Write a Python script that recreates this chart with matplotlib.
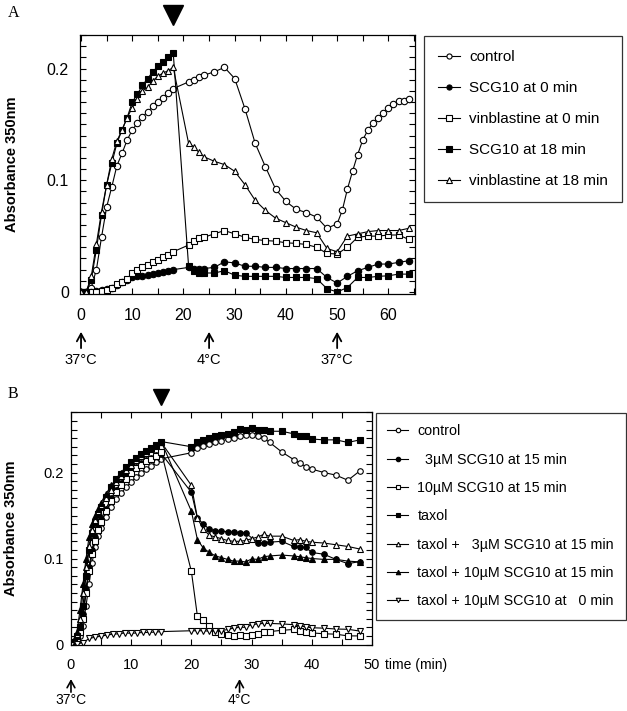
import matplotlib
matplotlib.use("Agg")
import matplotlib.pyplot as plt
from matplotlib.ticker import MultipleLocator
from matplotlib import transforms

plt.rcParams['font.family'] = ['Liberation Sans', 'DejaVu Sans']

# ---------------- Panel A data ----------------
t_a = [0, 1, 2, 3, 4, 5, 6, 7, 8, 9, 10, 11, 12, 13, 14, 15, 16, 17, 18,
       21, 22, 23, 24, 26, 28, 30, 32, 34, 36, 38, 40, 42, 44, 46, 48, 50,
       52, 54, 56, 58, 60, 62, 64]
t_a_control = [0, 1, 2, 3, 4, 5, 6, 7, 8, 9, 10, 11, 12, 13, 14, 15, 16, 17, 18,
               21, 22, 23, 24, 26, 28, 30, 32, 34, 36, 38, 40, 42, 44, 46, 48,
               50, 51, 52, 53, 54, 55, 56, 57, 58, 59, 60, 61, 62, 63, 64]

a_control = [0, 0, 0.004, 0.020, 0.049, 0.076, 0.094, 0.113, 0.124, 0.136, 0.145,
             0.151, 0.157, 0.161, 0.166, 0.170, 0.174, 0.178, 0.182,
             0.188, 0.190, 0.192, 0.194, 0.197, 0.201, 0.191, 0.164, 0.133, 0.112,
             0.092, 0.081, 0.074, 0.071, 0.067, 0.057,
             0.061, 0.073, 0.092, 0.108, 0.123, 0.136, 0.145, 0.151, 0.156, 0.160,
             0.165, 0.168, 0.171, 0.171, 0.173]
a_scg10_0 = [0, 0, 0, 0.001, 0.002, 0.003, 0.004, 0.006, 0.009, 0.011, 0.013, 0.014,
             0.014, 0.015, 0.016, 0.017, 0.018, 0.019, 0.020,
             0.022, 0.021, 0.021, 0.021, 0.022, 0.027, 0.026, 0.023, 0.023, 0.022,
             0.022, 0.021, 0.021, 0.021, 0.021, 0.013, 0.008,
             0.014, 0.019, 0.022, 0.025, 0.025, 0.0265, 0.028]
a_vinb_0 = [0, 0, 0, 0, 0.001, 0.002, 0.004, 0.007, 0.009, 0.012, 0.017, 0.020,
            0.022, 0.024, 0.027, 0.029, 0.031, 0.033, 0.036,
            0.042, 0.046, 0.048, 0.049, 0.052, 0.055, 0.052, 0.049, 0.047, 0.046,
            0.0455, 0.044, 0.0435, 0.0425, 0.040, 0.0345, 0.034,
            0.040, 0.049, 0.050, 0.050, 0.051, 0.051, 0.047]
a_scg10_18 = [0, 0, 0.011, 0.038, 0.069, 0.096, 0.115, 0.133, 0.145, 0.156, 0.170,
              0.177, 0.185, 0.191, 0.197, 0.202, 0.206, 0.210, 0.214,
              0.023, 0.019, 0.017, 0.017, 0.017, 0.019, 0.015, 0.014, 0.014, 0.014,
              0.014, 0.013, 0.013, 0.013, 0.012, 0.003, 0.0,
              0.004, 0.013, 0.013, 0.014, 0.0145, 0.016, 0.016]
a_vinb_18 = [0, 0, 0.014, 0.043, 0.072, 0.096, 0.119, 0.135, 0.145, 0.156, 0.165,
             0.173, 0.180, 0.183, 0.189, 0.193, 0.196, 0.198, 0.201,
             0.133, 0.130, 0.125, 0.121, 0.117, 0.114, 0.108, 0.096, 0.082, 0.073,
             0.066, 0.062, 0.058, 0.055, 0.053, 0.039, 0.036,
             0.050, 0.052, 0.054, 0.055, 0.055, 0.055, 0.057]

# ---------------- Panel B data ----------------
t_b_early = [0, 0.5, 1, 1.5, 2, 2.5, 3, 3.5, 4, 4.5, 5, 5.8, 6.7, 7.5, 8.3, 9.2,
             10, 10.8, 11.7, 12.5, 13.3, 14.2, 15]
t_b_late = [20, 21, 22, 23, 24, 25, 26, 27, 28, 29, 30, 31, 32, 33, 35, 37, 38,
            39, 40, 42, 44, 46, 48]
t_b_late_scg3 = [20, 21, 22, 23, 24, 25, 26, 27, 28, 29, 31, 32, 33, 35, 37, 38,
                 39, 40, 42, 44, 46, 48]
t_b_tax0 = [0, 1, 2, 3, 4, 5, 6, 7, 8, 9, 10, 11, 12, 13, 14, 15]

b_control_e = [0, 0.001, 0.004, 0.010, 0.022, 0.045, 0.070, 0.095, 0.113, 0.126,
               0.136, 0.148, 0.160, 0.169, 0.176, 0.183, 0.189, 0.195, 0.200,
               0.204, 0.208, 0.212, 0.216]
b_control_l = [0.223, 0.228, 0.231, 0.233, 0.235, 0.237, 0.2385, 0.240, 0.242,
               0.244, 0.244, 0.2425, 0.240, 0.235, 0.224, 0.215, 0.211, 0.207,
               0.204, 0.200, 0.197, 0.191, 0.202]
b_scg3_e = [0, 0.002, 0.006, 0.015, 0.035, 0.065, 0.090, 0.110, 0.125, 0.137,
            0.146, 0.158, 0.170, 0.180, 0.188, 0.196, 0.202, 0.207, 0.211,
            0.214, 0.217, 0.220, 0.222]
b_scg3_l = [0.177, 0.147, 0.140, 0.134, 0.132, 0.132, 0.131, 0.131, 0.130, 0.130,
            0.118, 0.118, 0.119, 0.120, 0.114, 0.113, 0.113, 0.107, 0.105, 0.099,
            0.094, 0.0965]
b_scg10_e = [0, 0.002, 0.006, 0.014, 0.030, 0.060, 0.085, 0.105, 0.120, 0.133,
             0.142, 0.155, 0.167, 0.177, 0.185, 0.193, 0.200, 0.205, 0.209,
             0.213, 0.216, 0.219, 0.224]
b_scg10_l = [0.085, 0.033, 0.029, 0.021, 0.015, 0.012, 0.0105, 0.010, 0.0105,
             0.010, 0.011, 0.0125, 0.0145, 0.015, 0.0165, 0.0175, 0.016, 0.015,
             0.0135, 0.0125, 0.012, 0.010, 0.010]
b_taxol_e = [0, 0.003, 0.010, 0.020, 0.045, 0.080, 0.110, 0.130, 0.142, 0.152,
             0.160, 0.172, 0.183, 0.192, 0.198, 0.206, 0.212, 0.217, 0.221,
             0.225, 0.229, 0.232, 0.236]
b_taxol_l = [0.230, 0.236, 0.238, 0.240, 0.242, 0.244, 0.245, 0.247, 0.251, 0.250,
             0.252, 0.249, 0.250, 0.248, 0.248, 0.245, 0.243, 0.242, 0.239, 0.238,
             0.238, 0.235, 0.238]
b_tax3_e = [0, 0.004, 0.012, 0.030, 0.060, 0.090, 0.115, 0.133, 0.145, 0.155,
            0.162, 0.170, 0.180, 0.189, 0.196, 0.203, 0.209, 0.214, 0.219,
            0.223, 0.227, 0.231, 0.235]
b_tax3_l = [0.185, 0.147, 0.134, 0.127, 0.125, 0.123, 0.121, 0.120, 0.120, 0.121,
            0.123, 0.125, 0.128, 0.126, 0.126, 0.121, 0.122, 0.120, 0.119, 0.118,
            0.116, 0.114, 0.111]
b_tax10_e = [0, 0.005, 0.015, 0.040, 0.070, 0.100, 0.125, 0.140, 0.150, 0.158,
             0.165, 0.175, 0.185, 0.193, 0.200, 0.207, 0.212, 0.217, 0.221,
             0.225, 0.229, 0.232, 0.236]
b_tax10_l = [0.155, 0.122, 0.112, 0.107, 0.103, 0.101, 0.099, 0.097, 0.097, 0.096,
             0.0995, 0.099, 0.102, 0.103, 0.104, 0.103, 0.102, 0.101, 0.100, 0.099,
             0.099, 0.097, 0.096]
b_tax0_e = [0, 0.001, 0.002, 0.007, 0.0085, 0.0097, 0.011, 0.012, 0.0125, 0.0135,
            0.013, 0.0135, 0.014, 0.014, 0.0145, 0.015]
b_tax0_l = [0.016, 0.016, 0.016, 0.0155, 0.0155, 0.016, 0.0175, 0.019, 0.020,
            0.020, 0.023, 0.024, 0.0245, 0.0245, 0.024, 0.023, 0.0215, 0.0205,
            0.0195, 0.019, 0.018, 0.0177, 0.0156]

labels_a = ['control', 'SCG10 at 0 min', 'vinblastine at 0 min',
            'SCG10 at 18 min', 'vinblastine at 18 min']
labels_b = ['control', '  3\u00b5M SCG10 at 15 min', '10\u00b5M SCG10 at 15 min',
            'taxol', 'taxol +   3\u00b5M SCG10 at 15 min',
            'taxol + 10\u00b5M SCG10 at 15 min', 'taxol + 10\u00b5M SCG10 at   0 min']

fig = plt.figure(figsize=(6.27, 7.11), dpi=100)
axA = fig.add_axes([0.1276, 0.5865, 0.5343, 0.3643])
axB = fig.add_axes([0.1132, 0.0928, 0.4801, 0.3281])


def series(ax, x, y, marker, filled, ms, label):
    ax.plot(x, y, color='black', lw=0.8, marker=marker, ms=ms,
            mfc='black' if filled else 'white', mec='black', mew=0.8,
            label=label)


def style(ax, fs, xpad, ypad):
    ax.xaxis.set_major_locator(MultipleLocator(10))
    ax.xaxis.set_minor_locator(MultipleLocator(5))
    ax.yaxis.set_major_locator(MultipleLocator(0.1))
    ax.yaxis.set_minor_locator(MultipleLocator(0.01))
    ax.yaxis.set_major_formatter(plt.FuncFormatter(lambda v, p: '0' if abs(v) < 1e-9 else f'{v:.1f}'))
    ax.tick_params(which='both', direction='in', top=True, right=True,
                   length=4.5, width=0.8, labelsize=fs)
    ax.tick_params(axis='x', pad=xpad)
    ax.tick_params(axis='y', pad=ypad)
    for s in ax.spines.values():
        s.set_linewidth(0.9)


# ---- Panel A ----
ms_a = 4.6
series(axA, t_a_control, a_control, 'o', False, ms_a, labels_a[0])
series(axA, t_a, a_scg10_0, 'o', True, ms_a, labels_a[1])
series(axA, t_a, a_vinb_0, 's', False, ms_a, labels_a[2])
series(axA, t_a, a_scg10_18, 's', True, ms_a, labels_a[3])
series(axA, t_a, a_vinb_18, '^', False, ms_a, labels_a[4])
axA.set_xlim(-0.2, 65.2)
axA.set_ylim(-0.0018, 0.230)
style(axA, 11.5, 10, 8)
axA.set_ylabel('Absorbance 350nm', fontsize=10.5, fontweight='bold')
axA.yaxis.set_label_coords(-0.182, 0.5)

legA = axA.legend(loc='upper left', bbox_to_anchor=(0.676, 0.949),
                  bbox_transform=fig.transFigure, borderaxespad=0,
                  fontsize=11, frameon=True, fancybox=False, edgecolor='black',
                  borderpad=0.9, labelspacing=1.12, handlelength=1.45,
                  handletextpad=0.6, markerscale=0.8)
legA.get_frame().set_linewidth(0.9)

trA = transforms.blended_transform_factory(axA.transData, axA.transAxes)
axA.plot([18], [1.077], marker='v', ms=14, color='black', transform=trA, clip_on=False)
for xa, lab in zip([0, 25, 50], ['37\u00b0C', '4\u00b0C', '37\u00b0C']):
    axA.annotate('', xy=(xa, -0.146), xycoords=trA, xytext=(xa, -0.209),
                 textcoords=trA,
                 arrowprops=dict(arrowstyle='->,head_length=0.55,head_width=0.3',
                                 lw=1.3, color='black', shrinkA=0, shrinkB=0))
    axA.text(xa, -0.255, lab, transform=trA, ha='center', va='center', fontsize=10.5)
fig.text(8 / 627, 1 - 13 / 711, 'A', family=['Liberation Serif', 'DejaVu Serif'],
         fontsize=11.5, ha='left', va='center')

# ---- Panel B ----
ms_b = 4.0
series(axB, t_b_early + t_b_late, b_control_e + b_control_l, 'o', False, ms_b, labels_b[0])
series(axB, t_b_early + t_b_late_scg3, b_scg3_e + b_scg3_l, 'o', True, ms_b, labels_b[1])
series(axB, t_b_early + t_b_late, b_scg10_e + b_scg10_l, 's', False, ms_b, labels_b[2])
series(axB, t_b_early + t_b_late, b_taxol_e + b_taxol_l, 's', True, ms_b, labels_b[3])
series(axB, t_b_early + t_b_late, b_tax3_e + b_tax3_l, '^', False, ms_b, labels_b[4])
series(axB, t_b_early + t_b_late, b_tax10_e + b_tax10_l, '^', True, ms_b, labels_b[5])
series(axB, t_b_tax0 + t_b_late, b_tax0_e + b_tax0_l, 'v', False, ms_b, labels_b[6])
axB.set_xlim(0, 50)
axB.set_ylim(-0.0006, 0.2707)
style(axB, 10.5, 9, 5.5)
axB.set_ylabel('Absorbance 350nm', fontsize=10.5, fontweight='bold')
axB.yaxis.set_label_coords(-0.176, 0.5)

legB = axB.legend(loc='upper left', bbox_to_anchor=(0.5997, 0.4191),
                  bbox_transform=fig.transFigure, borderaxespad=0,
                  fontsize=10.3, frameon=True, fancybox=False, edgecolor='black',
                  borderpad=0.8, labelspacing=1.0, handlelength=1.47,
                  handletextpad=0.63, markerscale=0.8)
legB.get_frame().set_linewidth(0.9)

trB = transforms.blended_transform_factory(axB.transData, axB.transAxes)
axB.plot([15], [1.064], marker='v', ms=11, color='black', transform=trB, clip_on=False)
for xb, lab in zip([0, 28], ['37\u00b0C', '4\u00b0C']):
    axB.annotate('', xy=(xb, -0.146), xycoords=trB, xytext=(xb, -0.202),
                 textcoords=trB,
                 arrowprops=dict(arrowstyle='->,head_length=0.5,head_width=0.28',
                                 lw=1.2, color='black', shrinkA=0, shrinkB=0))
    axB.text(xb, -0.236, lab, transform=trB, ha='center', va='center', fontsize=10)
axB.text(1.043, -0.086, 'time (min)', transform=axB.transAxes, ha='left',
         va='center', fontsize=10)
fig.text(8 / 627, 1 - 394 / 711, 'B', family=['Liberation Serif', 'DejaVu Serif'],
         fontsize=11.5, ha='left', va='center')

fig.savefig('out.png', dpi=100)
